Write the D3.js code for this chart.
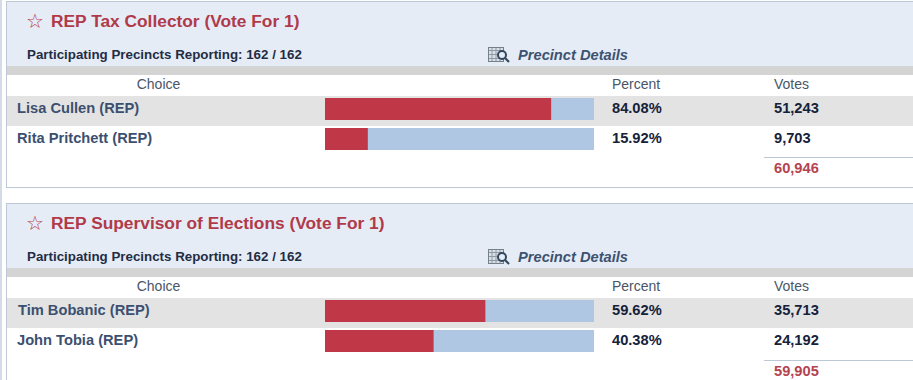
<!DOCTYPE html>
<html>
<head>
<meta charset="utf-8">
<script src="https://cdn.jsdelivr.net/npm/d3@7"></script>
<style>
    html, body { margin: 0; padding: 0; background: #fff; overflow: hidden; }
    svg { display: block; font-family: "Liberation Sans", Arial, sans-serif; }
</style>
</head>
<body>
<svg id="chart" width="913" height="380"></svg>
<script>
const contests = ['REP Tax Collector (Vote For 1)', 'REP Supervisor of Elections (Vote For 1)'];
const precincts = ['Participating Precincts Reporting: 162 / 162', 'Participating Precincts Reporting: 162 / 162'];
const choices = [['Lisa Cullen (REP)', 'Rita Pritchett (REP)'], ['Tim Bobanic (REP)', 'John Tobia (REP)']];
const percents = [[84.08, 15.92], [59.62, 40.38]];
const votes = [[51243, 9703], [35713, 24192]];
const totals = [60946, 59905];
const columns = ['Choice', 'Percent', 'Votes'];

const svg = d3.select('#chart');
const fmt = d3.format(',');

const red = '#c03748', blue = '#b0c7e3', head = '#e6ecf6', line = '#bcc8d6';

// bars share one scale, rows share the other
const x = d3.scaleLinear().domain([0, 100]).range([325, 594]);
const y = d3.scaleBand().domain([0, 1]).range([96, 156]).paddingInner(0);

// outer page edge
svg.append('rect').attr('x', 0).attr('y', 0).attr('width', 2).attr('height', 380).attr('fill', '#d3dce6');

const panel = svg.selectAll('.panel')
    .data(contests)
    .enter()
    .append('g')
    .attr('class', 'panel')
    .attr('transform', (d, i) => `translate(0, ${i * 202})`);

panel.each(function (title, p) {
    const g = d3.select(this);
    // the lower panel's footer sits a pixel further down
    const foot = p === 1 ? 1 : 0;

    g.append('rect').attr('x', 6.5).attr('y', 1.5).attr('width', 920).attr('height', 186)
        .attr('fill', '#fff').attr('stroke', line);
    g.append('rect').attr('x', 7).attr('y', 2).attr('width', 906).attr('height', 64).attr('fill', head);
    g.append('rect').attr('x', 7).attr('y', 66).attr('width', 906).attr('height', 9).attr('fill', '#d4d4d4');

    g.append('text').attr('x', 26).attr('y', 28).attr('fill', '#b5434f')
        .style('font-family', '"DejaVu Sans", sans-serif').style('font-size', '20px').text('\u2606');
    g.append('text').attr('x', 51).attr('y', 27).attr('fill', '#b03a4a')
        .style('font-size', '17.33px').style('font-weight', 'bold').text(title);
    g.append('text').attr('x', 27).attr('y', 59).attr('fill', '#1f2d45')
        .style('font-size', '13.33px').style('font-weight', 'bold').text(precincts[p]);

    // precinct details icon
    const icon = g.append('g').attr('transform', 'translate(488, 47)');
    icon.append('rect').attr('x', 0.5).attr('y', 0.5).attr('width', 15).attr('height', 14)
        .attr('fill', '#d9dfe6').attr('stroke', '#75808f');
    [4, 8, 12].forEach(k => {
        icon.append('line').attr('x1', k).attr('x2', k).attr('y1', 1).attr('y2', 14).attr('stroke', '#8f99a6');
        icon.append('line').attr('x1', 1).attr('x2', 15).attr('y1', k - 0.5).attr('y2', k - 0.5).attr('stroke', '#8f99a6');
    });
    icon.append('circle').attr('cx', 14).attr('cy', 8).attr('r', 4).attr('fill', '#e6ecf6').attr('stroke', '#33475f').attr('stroke-width', 2);
    icon.append('line').attr('x1', 17).attr('y1', 11).attr('x2', 21).attr('y2', 15).attr('stroke', '#33475f').attr('stroke-width', 2.2);

    g.append('text').attr('x', 518).attr('y', 60).attr('fill', '#3d5270')
        .style('font-size', '14.67px').style('font-weight', 'bold').style('font-style', 'italic').text('Precinct Details');

    // column headers
    g.selectAll('.col')
        .data(columns)
        .enter()
        .append('text')
        .attr('class', 'col')
        .attr('x', (d, i) => [158.5, 612, 774][i])
        .attr('y', 89)
        .attr('text-anchor', (d, i) => i === 0 ? 'middle' : 'start')
        .attr('fill', '#4a5568')
        .style('font-size', '14px')
        .text(d => d);

    const row = g.selectAll('.row')
        .data(choices[p])
        .enter()
        .append('g')
        .attr('class', 'row')
        .attr('transform', (d, i) => `translate(0, ${y(i)})`);

    row.filter((d, i) => i === 0).append('rect')
        .attr('x', 7).attr('y', 0).attr('width', 906).attr('height', y.bandwidth()).attr('fill', '#e3e3e3');

    row.append('text').attr('x', (d, i) => p === 1 && i === 0 ? 18 : 17).attr('y', 17).attr('fill', '#3b5070')
        .style('font-size', '14.67px').style('font-weight', 'bold').text(d => d);

    row.append('rect').attr('x', x(0)).attr('y', 2).attr('width', x(100) - x(0)).attr('height', 22).attr('fill', blue);
    row.append('rect').attr('x', x(0)).attr('y', 2)
        .attr('width', (d, i) => x(percents[p][i]) - x(0)).attr('height', 22).attr('fill', red);

    row.append('text').attr('x', 612).attr('y', 17).attr('fill', '#16213a')
        .style('font-size', '14.67px').style('font-weight', 'bold').text((d, i) => percents[p][i].toFixed(2) + '%');
    row.append('text').attr('x', 774).attr('y', 17).attr('fill', '#16213a')
        .style('font-size', '14.67px').style('font-weight', 'bold').text((d, i) => fmt(votes[p][i]));

    g.append('line').attr('x1', 764).attr('x2', 913).attr('y1', 157.5 + foot).attr('y2', 157.5 + foot).attr('stroke', line);
    g.append('text').attr('x', 774).attr('y', 173 + foot).attr('fill', '#b5434f')
        .style('font-size', '14.67px').style('font-weight', 'bold').text(fmt(totals[p]));
});
</script>
</body>
</html>
